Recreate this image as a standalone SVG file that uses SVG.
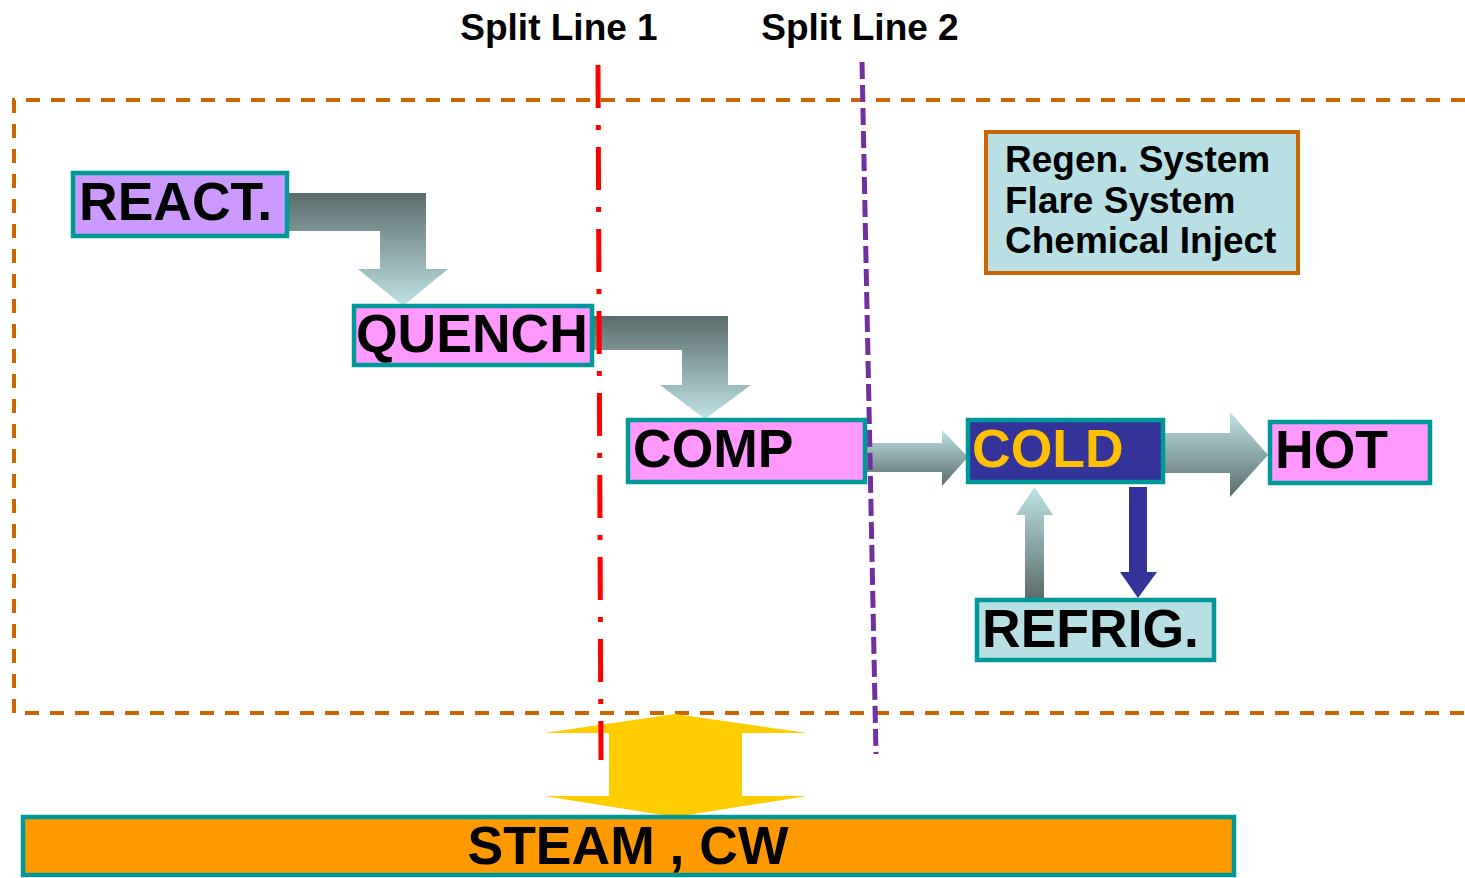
<svg xmlns="http://www.w3.org/2000/svg" width="1465" height="878" viewBox="0 0 1465 878">
<defs>
<linearGradient id="gDown" x1="0" y1="0" x2="0" y2="1">
<stop offset="0" stop-color="#5a6b6b"/>
<stop offset="1" stop-color="#bfe3e6"/>
</linearGradient>
<linearGradient id="gUp" x1="0" y1="0" x2="0" y2="1">
<stop offset="0" stop-color="#bfe3e6"/>
<stop offset="1" stop-color="#5a6b6b"/>
</linearGradient>
<style>
.box{stroke:#009999;stroke-width:4.5}
.lbl{font-family:"Liberation Sans",Arial,sans-serif;font-weight:bold;font-size:53.5px;fill:#000}
.small{font-family:"Liberation Sans",Arial,sans-serif;font-weight:bold;font-size:37px;fill:#000}
</style>
</defs>
<rect width="1465" height="878" fill="#fff"/>

<g id="frame">
<path d="M1465 100 H14 V713 H1465" fill="none" stroke="#cc6600" stroke-width="4" stroke-dasharray="14 11"/>
</g>

<g id="connectors">
<path d="M287 193 H426 V269 H448 L403 306 L358 269 H380 V231 H287 Z" fill="url(#gDown)"/>
<path d="M591 316 H728 V385 H751 L705 419 L660 385 H682 V350 H591 Z" fill="url(#gDown)"/>
<path d="M866 443 H942 V430 L968 457 L942 486 V472 H866 Z" fill="url(#gUp)"/>
<path d="M1162 433 H1230 V412 L1268 455 L1230 497 V473 H1162 Z" fill="url(#gUp)"/>
<path d="M1025 599 V515 H1016 L1034.5 487 L1053 515 H1044 V599 Z" fill="url(#gUp)"/>
<path d="M1129 487 H1147 V572 H1157 L1138 598 L1120 572 H1129 Z" fill="#333399"/>
<path d="M675 714 L807 733 H742 V796 H807 L675 817 L544 796 H609 V733 H544 Z" fill="#ffcc00"/>
</g>

<g id="split1">
<line x1="598" y1="65" x2="601" y2="760" stroke="#ff0000" stroke-width="5" stroke-dasharray="43 17 5 17"/>
<text class="small" x="559" y="40" text-anchor="middle">Split Line 1</text>
</g>
<g id="split2">
<line x1="862" y1="62" x2="876" y2="754" stroke="#7030a0" stroke-width="5" stroke-dasharray="17 6"/>
<text class="small" x="860" y="40" text-anchor="middle">Split Line 2</text>
</g>

<g id="react">
<rect class="box" x="73" y="173" width="214" height="63" fill="#cc99ff"/>
<text class="lbl" x="79" y="220">REACT.</text>
</g>
<g id="quench">
<rect class="box" x="354" y="306" width="238" height="59" fill="#ff99ff"/>
<text class="lbl" x="356" y="352">QUENCH</text>
</g>
<g id="comp">
<rect class="box" x="628" y="420" width="237" height="62" fill="#ff99ff"/>
<text class="lbl" x="633" y="467">COMP</text>
</g>
<g id="cold">
<rect class="box" x="968" y="420" width="195" height="62" fill="#333399"/>
<text class="lbl" x="972" y="467" style="fill:#ffc000">COLD</text>
</g>
<g id="hot">
<rect class="box" x="1270" y="422" width="160" height="61" fill="#ff99ff"/>
<text class="lbl" x="1275" y="468">HOT</text>
</g>
<g id="refrig">
<rect class="box" x="977" y="600" width="237" height="60" fill="#b8e0e4"/>
<text class="lbl" x="982" y="647">REFRIG.</text>
</g>
<g id="regen">
<rect x="986" y="132" width="312" height="141" fill="#b8e0e4" stroke="#cc6600" stroke-width="4"/>
<text class="small" x="1005" y="172">Regen. System</text>
<text class="small" x="1005" y="213">Flare System</text>
<text class="small" x="1005" y="253">Chemical Inject</text>
</g>
<g id="steam">
<rect class="box" x="23" y="817" width="1211" height="58" fill="#ff9900"/>
<text class="lbl" x="628" y="864" text-anchor="middle">STEAM , CW</text>
</g>
</svg>
